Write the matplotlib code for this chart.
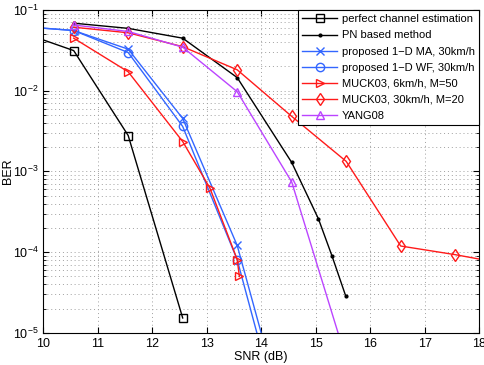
import matplotlib

matplotlib.use("Agg")

import matplotlib.pyplot as plt
from matplotlib.ticker import LogLocator, NullFormatter

plt.rcParams["font.family"] = ["Liberation Sans", "DejaVu Sans"]
plt.rcParams["mathtext.fontset"] = "custom"
plt.rcParams["mathtext.rm"] = "Liberation Sans"
plt.rcParams["mathtext.default"] = "regular"

# SNR points (dB) and BER values
snr_perfect = [9.56, 10.56, 11.56, 12.56]
ber_perfect = [0.054, 0.0313, 2.78e-3, 1.53e-5]

snr_pn = [10.56, 11.56, 12.56, 13.56, 14.56, 15.05, 15.30, 15.55]
ber_pn = [0.0684, 0.059, 0.0446, 0.0145, 1.29e-3, 2.59e-4, 8.95e-5, 2.88e-5]

snr_ma = [9.56, 10.56, 11.56, 12.56, 13.56, 14.56]
ber_ma = [0.0625, 0.0555, 0.0326, 4.52e-3, 1.21e-4, 4.2e-7]

snr_wf = [9.56, 10.56, 11.56, 12.56, 13.56, 14.56]
ber_wf = [0.0625, 0.0555, 0.0296, 3.6e-3, 8.05e-5, 2.5e-7]

snr_muck6 = [10.56, 11.56, 12.56, 13.06, 13.56, 13.60]
ber_muck6 = [0.0446, 0.0171, 2.34e-3, 6.2e-4, 8.1e-5, 5.0e-5]

snr_muck30 = [10.56, 11.56, 12.56, 13.56, 14.56, 15.56, 16.56, 17.56, 18.56]
ber_muck30 = [0.061, 0.052, 0.035, 0.0181, 4.8e-3, 1.33e-3, 1.19e-4, 9.3e-5, 7.0e-5]

snr_yang = [10.56, 11.56, 12.56, 13.56, 14.56, 15.56]
ber_yang = [0.065, 0.054, 0.0345, 9.7e-3, 7.4e-4, 4.7e-6]

BLUE = "#3366ff"
RED = "#ff1a1a"
PURPLE = "#bb44ff"

fig = plt.figure(figsize=(4.85, 3.65), dpi=100)
ax = fig.add_axes([0.089, 0.088, 0.899, 0.885])

style = dict(linestyle="-", linewidth=1.0, markersize=6, markerfacecolor="none",
             markeredgewidth=1.0)
ax.plot(snr_perfect, ber_perfect, marker="s", color="black",
        label="perfect channel estimation", **style)
ax.plot(snr_pn, ber_pn, linestyle="-", marker=".", color="black", linewidth=1.0,
        markersize=4, label="PN based method")
ax.plot(snr_ma, ber_ma, marker="x", color=BLUE, label="proposed 1\u2212D MA, 30km/h", **style)
ax.plot(snr_wf, ber_wf, marker="o", color=BLUE, label="proposed 1\u2212D WF, 30km/h", **style)
ax.plot(snr_muck6, ber_muck6, marker=">", color=RED, label="MUCK03, 6km/h, M=50", **style)
ax.plot(snr_muck30, ber_muck30, marker="d", color=RED, label="MUCK03, 30km/h, M=20", **style)
ax.plot(snr_yang, ber_yang, marker="^", color=PURPLE, label="YANG08", **style)

ax.set_yscale("log")
ax.set_xlim(10, 18)
ax.set_ylim(1e-5, 1e-1)
ax.set_xticks(range(10, 19))
ax.yaxis.set_major_locator(LogLocator(base=10, numticks=10))
ax.yaxis.set_minor_locator(LogLocator(base=10, subs=range(2, 10), numticks=20))
ax.yaxis.set_minor_formatter(NullFormatter())

ax.tick_params(which="both", direction="in", top=True, right=True, labelsize=9)
ax.tick_params(which="major", length=4)
ax.tick_params(which="minor", length=2)
grid_style = dict(linestyle=(0, (1, 3)), color="#a0a0a0", linewidth=0.7)
ax.grid(True, which="major", **grid_style)
ax.grid(True, which="minor", axis="y", **grid_style)

ax.set_xlabel("SNR (dB)", fontsize=9, labelpad=1)
ax.set_ylabel("BER", fontsize=9)
ax.yaxis.set_label_coords(-0.068, 0.5)

leg = ax.legend(loc="upper right", fontsize=8, frameon=True, fancybox=False,
                borderaxespad=0, handlelength=3.1, handletextpad=0.45,
                labelspacing=0.55, borderpad=0.4)
leg.get_frame().set_edgecolor("black")
leg.get_frame().set_linewidth(0.8)
leg.get_frame().set_alpha(1)

fig.savefig("out.png", dpi=100)
